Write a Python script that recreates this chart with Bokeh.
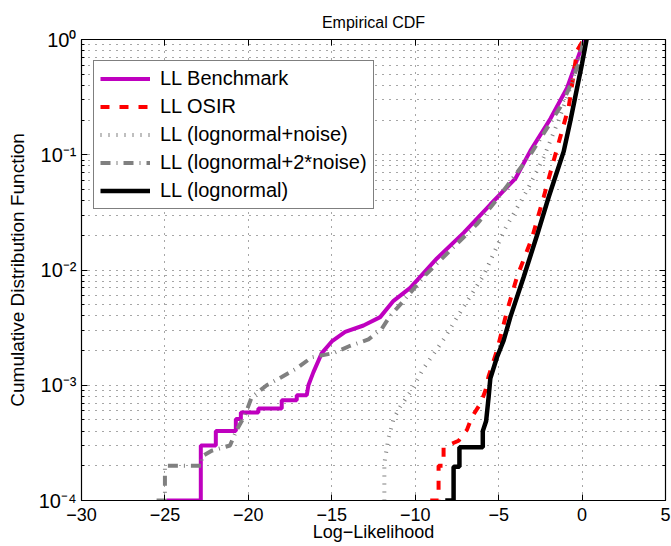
from bokeh.plotting import figure
from bokeh.models import FixedTicker, LinearAxis, LogAxis
from bokeh.embed import file_html
from bokeh.resources import INLINE

# ---------------- data ----------------
x_ticks = [-30, -25, -20, -15, -10, -5, 0, 5]
x_tick_labels = ["\u221230", "\u221225", "\u221220", "\u221215", "\u221210", "\u22125", "0", "5"]
y_ticks = [1e-4, 1e-3, 1e-2, 1e-1, 1.0]
y_tick_labels = ["10\u207b\u2074", "10\u207b\u00b3", "10\u207b\u00b2", "10\u207b\u00b9", "10\u2070"]
y_minor_ticks = [k * 10.0 ** e for e in (-4, -3, -2, -1) for k in range(2, 10)]

bench_x = [-24.9, -22.85, -22.85, -21.95, -21.95, -20.75, -20.75, -20.45, -20.45, -19.4, -19.4,
           -18.0, -18.0, -17.1, -17.1, -16.5, -16.4, -16.1, -15.6, -15.0, -14.2, -13.1, -12.1,
           -11.3, -10.3, -8.7, -7.1, -5.5, -4.0, -3.1, -1.9, -0.9, -0.1, 0.2]
bench_y = [1e-4, 1e-4, 3e-4, 3e-4, 4e-4, 4e-4, 5.1e-4, 5.1e-4, 5.8e-4, 5.8e-4, 6.3e-4,
           6.3e-4, 7.4e-4, 7.4e-4, 8.2e-4, 8.2e-4, 1.0e-3, 1.3e-3, 1.9e-3, 2.4e-3, 2.9e-3, 3.3e-3, 3.9e-3,
           5.4e-3, 7.0e-3, 1.26e-2, 2.1e-2, 3.7e-2, 6.2e-2, 1.08e-1, 2.05e-1, 3.8e-1, 0.8, 1.0]

osir_x = [-9.1, -8.6, -8.6, -8.3, -8.3, -7.4, -6.9, -6.6, -6.1, -5.8, -5.6, -5.1, -4.5, -3.9,
          -3.0, -2.3, -1.7, -0.8, -0.55, -0.3, 0.1]
osir_y = [1e-4, 1e-4, 2e-4, 2e-4, 2.9e-4, 3.3e-4, 4.1e-4, 5.3e-4, 6.9e-4, 8.9e-4, 1.2e-3, 2.0e-3,
          4.4e-3, 8.7e-3, 1.9e-2, 4.3e-2, 8.9e-2, 0.26, 0.45, 0.8, 1.0]

noise_x = [-11.85, -11.85, -11.6, -11.3, -10.9, -10.3, -9.5, -8.3, -7.1, -5.9, -4.6, -3.3, -2.3,
           -1.4, -0.6, -0.1, 0.15]
noise_y = [1e-4, 2.1e-4, 3.5e-4, 5.1e-4, 6.5e-4, 8.7e-4, 1.4e-3, 2.5e-3, 4.8e-3, 9e-3, 2.3e-2,
           4.9e-2, 9.5e-2, 0.2, 0.42, 0.8, 1.0]

noise2_x = [-25.5, -25.0, -25.0, -22.8, -22.8, -22.2, -21.1, -20.7, -20.2, -19.8, -18.9, -18.0,
            -17.1, -16.2, -14.9, -13.9, -12.8, -12.0, -11.5, -10.7, -9.5, -7.9, -6.3, -5.1,
            -3.1, -1.3, -0.8, -0.2, 0.1]
noise2_y = [1e-4, 1e-4, 2e-4, 2e-4, 2.4e-4, 2.7e-4, 3.0e-4, 4.1e-4, 5.5e-4, 7.9e-4, 1.0e-3, 1.18e-3,
            1.4e-3, 1.75e-3, 1.9e-3, 2.2e-3, 2.5e-3, 3.1e-3, 4.0e-3, 5.4e-3, 8.7e-3, 1.48e-2, 2.5e-2,
            4.1e-2, 0.10, 0.26, 0.37, 0.62, 1.0]

logn_x = [-8.2, -7.7, -7.7, -7.35, -7.35, -5.95, -5.95, -5.75, -5.6, -5.5, -5.1, -4.7, -4.3,
          -3.5, -2.7, -2.0, -1.1, -0.7, -0.3, 0.0, 0.27]
logn_y = [1e-4, 1e-4, 1.96e-4, 1.96e-4, 2.9e-4, 2.9e-4, 4.0e-4, 4.9e-4, 7.9e-4, 1.14e-3, 1.75e-3,
          2.45e-3, 3.9e-3, 8.7e-3, 2.0e-2, 4.3e-2, 0.107, 0.197, 0.38, 0.62, 1.0]

FONT = "Liberation Sans"

p = figure(width=671, height=546, x_range=(-30, 5), y_range=(1e-4, 1.0), y_axis_type="log",
           output_backend="svg", toolbar_location=None,
           min_border_left=81, min_border_right=6, min_border_top=39, min_border_bottom=46)
p.outline_line_color = "black"
p.background_fill_color = "white"
p.border_fill_color = "white"

p.title.text = "Empirical CDF"
p.title.align = "center"
p.title.text_font = FONT
p.title.text_font_size = "16px"
p.title.text_font_style = "normal"
p.title.text_color = "black"
p.title.standoff = 17

xt = FixedTicker(ticks=x_ticks, minor_ticks=[])
yt = FixedTicker(ticks=y_ticks, minor_ticks=y_minor_ticks)

p.xaxis.ticker = xt
p.yaxis.ticker = yt
p.xgrid.ticker = xt
p.ygrid.ticker = yt

p.xaxis.major_label_overrides = {v: s for v, s in zip(x_ticks, x_tick_labels)}
p.yaxis.major_label_overrides = {v: s for v, s in zip(y_ticks, y_tick_labels)}

def style_axis(ax):
    ax.axis_line_color = "black"
    ax.axis_line_width = 1.2
    ax.major_tick_in = 6
    ax.major_tick_out = 0
    ax.minor_tick_in = 3
    ax.minor_tick_out = 0
    ax.major_tick_line_color = "black"
    ax.minor_tick_line_color = "black"

for ax in list(p.xaxis) + list(p.yaxis):
    style_axis(ax)
    ax.major_label_text_font = FONT
    ax.major_label_text_font_size = "18px"
    ax.major_label_text_color = "black"
    ax.axis_label_text_font = FONT
    ax.axis_label_text_font_style = "normal"
    ax.axis_label_text_color = "black"

p.xaxis.major_label_standoff = 7
p.xaxis.axis_label = "Log\u2212Likelihood"
p.xaxis.axis_label_text_font_size = "18px"
p.xaxis.axis_label_standoff = -2

p.yaxis.major_label_text_font_size = "20px"
p.yaxis.major_label_standoff = 5
p.yaxis.axis_label = "Cumulative Distribution Function"
p.yaxis.axis_label_text_font_size = "19px"
p.yaxis.axis_label_standoff = 8

top_ax = LinearAxis(ticker=xt, major_label_text_font_size="1px", major_label_text_color=None,
                    major_label_standoff=0)
right_ax = LogAxis(ticker=yt, major_label_text_font_size="1px", major_label_text_color=None,
                   major_label_standoff=0)
style_axis(top_ax)
style_axis(right_ax)
p.add_layout(top_ax, "above")
p.add_layout(right_ax, "right")

for g in list(p.xgrid) + list(p.ygrid):
    g.grid_line_color = "black"
    g.grid_line_alpha = 0.7
    g.grid_line_dash = "1 6"
    g.grid_line_width = 1
p.ygrid.minor_grid_line_color = "black"
p.ygrid.minor_grid_line_alpha = 0.7
p.ygrid.minor_grid_line_dash = "1 6"

# ---------------- series ----------------
p.line(bench_x, bench_y, line_color="#BF00BF", line_width=4, legend_label="LL Benchmark")
p.line(osir_x, osir_y, line_color="#FF0000", line_width=4, line_dash="9 10", legend_label="LL OSIR")
p.line(noise_x, noise_y, line_color="#808080", line_width=4, line_dash="1 7",
       legend_label="LL (lognormal+noise)")
p.line(noise2_x, noise2_y, line_color="#808080", line_width=4, line_dash="10 6 1 6",
       legend_label="LL (lognormal+2*noise)")
p.line(logn_x, logn_y, line_color="#000000", line_width=4.5, legend_label="LL (lognormal)")

lg = p.legend[0]
lg.location = (12, 291)
lg.border_line_color = "black"
lg.border_line_width = 1
lg.background_fill_color = "white"
lg.background_fill_alpha = 1.0
lg.label_text_font = FONT
lg.label_text_font_size = "20px"
lg.label_text_color = "black"
lg.padding = 6
lg.spacing = 5
lg.margin = 0
lg.glyph_width = 50
lg.glyph_height = 23
lg.label_height = 23
lg.label_standoff = 10

open("out.html", "w").write(file_html(p, INLINE))
